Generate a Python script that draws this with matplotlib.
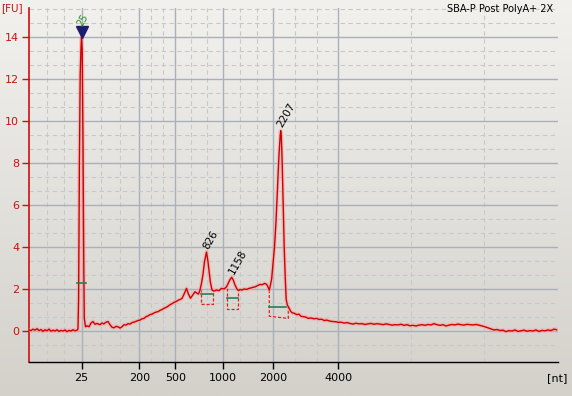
import numpy as np
import matplotlib
matplotlib.use('Agg')
import matplotlib.pyplot as plt
from matplotlib.colors import LinearSegmentedColormap

# electropherogram trace (migration position, fluorescence units)
pos = [29, 31, 33, 35, 37, 39, 41, 43, 45, 47, 49, 51, 53, 55, 57, 59, 61, 63, 65, 67,
       69, 71, 73, 75, 77, 78, 78.6, 79.4, 80.2, 81.0, 81.5, 82.2, 83.0, 83.8, 84.3, 85.5,
       87, 89, 91, 93, 95, 97, 100, 102, 104, 106, 108, 110, 112, 114, 116, 118, 120, 122,
       124, 126, 128, 130, 132, 134, 136, 138, 140, 142, 144, 146, 148, 150, 152, 154, 156,
       158, 160, 162, 164, 166, 168, 170, 172, 174, 176, 178, 180, 182, 184, 186.5, 188.5,
       190.5, 192.5, 195, 197, 198.5, 200, 201.5, 203, 204.5, 206.5, 208, 209.2, 210.3, 212,
       214, 216.5, 219, 221.5, 224, 226.5, 228.5, 230, 231.7, 233.5, 235, 237, 238.5, 240,
       242, 244, 246.5, 249, 251, 253, 255, 257, 260, 262, 265, 267, 269.3, 270.5, 271.7,
       273, 274.5, 276, 277.5, 279, 280.2, 280.7, 281.3, 282.2, 283.2, 284.2, 285.2, 286.2,
       287.3, 289, 290.5, 292, 294, 296.7, 299, 301, 303.3, 306, 308.3, 311, 314, 316.7,
       319, 322, 324, 326.7, 330, 333, 336, 338.3, 341, 344, 347, 350, 353, 356, 359, 362,
       365, 368, 371, 374, 377, 380, 383, 386, 389, 392, 395, 398, 401, 404, 407, 410, 413,
       416, 419, 422, 425, 428, 431, 434, 437, 440, 443, 446, 449, 452, 455, 458, 461, 464,
       467, 470, 473, 476, 479, 482, 485, 488, 491, 494, 497, 500, 503, 506, 509, 512, 515,
       518, 521, 524, 527, 530, 533, 536, 539, 542, 545, 548, 551, 554, 556.5]
fu = [0.05, 0.02, 0.09, 0.04, 0.11, 0.02, 0.07, -0.02, 0.06, 0.01, 0.09, -0.01, 0.04, 0.0,
      0.06, -0.02, 0.03, 0.0, 0.05, -0.03, 0.03, 0.0, 0.06, 0.01, 0.04, 0.1, 1.5, 8.0, 12.2,
      13.5, 14.0, 13.4, 9.0, 3.0, 0.6, 0.2, 0.25, 0.2, 0.38, 0.45, 0.32, 0.36, 0.3, 0.38,
      0.34, 0.42, 0.45, 0.3, 0.18, 0.15, 0.22, 0.2, 0.14, 0.2, 0.3, 0.28, 0.35, 0.33, 0.4,
      0.42, 0.46, 0.5, 0.52, 0.58, 0.6, 0.68, 0.72, 0.78, 0.8, 0.86, 0.9, 0.92, 0.98, 1.02,
      1.08, 1.12, 1.18, 1.25, 1.3, 1.36, 1.4, 1.46, 1.5, 1.55, 1.75, 2.03, 1.75, 1.56, 1.7,
      1.87, 1.8, 1.76, 1.95, 2.27, 2.7, 3.3, 3.76, 3.3, 2.8, 2.35, 1.95, 1.9, 1.95, 1.92,
      2.03, 2.0, 2.1, 2.3, 2.45, 2.56, 2.4, 2.19, 2.0, 1.92, 1.98, 1.95, 2.0, 1.98, 2.03,
      2.05, 2.08, 2.1, 2.15, 2.22, 2.2, 2.27, 2.2, 1.95, 2.2, 2.5, 3.2, 4.0, 5.2, 6.8, 8.4,
      9.3, 9.54, 9.3, 8.0, 6.0, 4.0, 2.6, 1.5, 1.24, 1.1, 0.95, 0.87, 0.85, 0.78, 0.8, 0.7,
      0.68, 0.66, 0.6, 0.62, 0.58, 0.6, 0.55, 0.56, 0.5, 0.52, 0.47, 0.45, 0.44, 0.41, 0.42,
      0.38, 0.4, 0.36, 0.33, 0.37, 0.34, 0.35, 0.31, 0.34, 0.36, 0.32, 0.35, 0.33, 0.3, 0.34,
      0.31, 0.28, 0.3, 0.29, 0.32, 0.27, 0.3, 0.25, 0.27, 0.24, 0.28, 0.3, 0.27, 0.31, 0.29,
      0.35, 0.3, 0.27, 0.3, 0.24, 0.28, 0.31, 0.29, 0.33, 0.3, 0.28, 0.32, 0.3, 0.29, 0.31,
      0.28, 0.24, 0.2, 0.15, 0.1, 0.05, 0.07, 0.02, 0.04, -0.03, 0.02, 0.0, 0.05, -0.02,
      0.01, 0.04, -0.01, 0.02, 0.0, 0.05, -0.02, 0.03, 0.01, 0.05, 0.02, 0.09, 0.06]

# ladder (x tick) positions and sizes
ladder_pos = [81.5, 139.3, 175.3, 223.3, 273.3, 338.3]
ladder_nt = ['25', '200', '500', '1000', '2000', '4000']

# marker peak
marker_pos, marker_fu, marker_label = 81.5, 14.0, '25'

# called peaks
peak_labels = ['826', '1158', '2207']
peak_pos = [206.5, 231.7, 280.7]
peak_fu = [3.76, 2.56, 9.54]

# integration regions
reg_left = [201.0, 227.3, 269.3]
reg_right = [213.3, 238.3, 288.3]
reg_top_l = [2.0, 2.05, 1.95]
reg_top_r = [1.9, 1.87, 1.13]
reg_bot_l = [1.27, 1.03, 0.7]
reg_bot_r = [1.27, 1.03, 0.6]
base_left = [77.3, 201.0, 227.3, 269.3]
base_right = [85.7, 213.3, 238.3, 286.0]
base_fu = [2.27, 1.76, 1.56, 1.16]

title = 'SBA-P Post PolyA+ 2X'

W, H = 572, 396
fig = plt.figure(figsize=(W / 100, H / 100), dpi=100)

# window-style gradient background
bg = fig.add_axes([0, 0, 1, 1])
grad = np.linspace(0, 1, 256).reshape(-1, 1)
cmap = LinearSegmentedColormap.from_list('bg', ['#f2f1ee', '#d4d1cb'])
bg.imshow(grad, aspect='auto', cmap=cmap, extent=[0, 1, 0, 1], origin='upper')
bg.axis('off')
bg.set_zorder(0)

x0, x1 = 29, 557.7
ax = fig.add_axes([x0 / W, (H - 362) / H, (x1 - x0) / W, (362 - 8) / H])
ax.set_zorder(1)
ax.set_facecolor('none')
ax.set_xlim(x0, x1)
ax.set_ylim(-31 / 21, 14 + 29 / 21)

# grid: solid at ladder / even FU, dashed thirds in between
edges = [x0] + ladder_pos
minor_x = []
for a, b in zip(edges[:-1], edges[1:]):
    minor_x += [a + (b - a) / 3, a + 2 * (b - a) / 3]
minor_x += [ladder_pos[-1] + 72.7, ladder_pos[-1] + 145.4]
for x in minor_x:
    ax.axvline(x, color='#c8c8c8', lw=0.8, ls=(0, (4, 3)), zorder=1)
for x in ladder_pos:
    ax.axvline(x, color='#aab0bb', lw=1.0, zorder=1)
for y in np.arange(-2 / 3, 15.4, 2 / 3):
    if abs(y / 2 - round(y / 2)) > 0.01:
        ax.axhline(y, color='#c8c8c8', lw=0.8, ls=(0, (4, 3)), zorder=1)
for y in range(0, 16, 2):
    ax.axhline(y, color='#aab0bb', lw=1.0, zorder=1)

# integration regions
for i in range(len(reg_left)):
    ax.plot([reg_left[i], reg_left[i], reg_right[i], reg_right[i]],
            [reg_top_l[i], reg_bot_l[i], reg_bot_r[i], reg_top_r[i]],
            color='#e02020', lw=0.9, ls=(0, (2.5, 1.5)), zorder=3)

# trace with glow
ax.plot(pos, fu, color='#f4a0a0', lw=3.0, alpha=0.5, zorder=3, solid_joinstyle='round')
ax.plot(pos, fu, color='#d00000', lw=1.0, zorder=4)

for l, r, y in zip(base_left, base_right, base_fu):
    ax.plot([l, r], [y, y], color='#2e7a5a', lw=1.2, zorder=5)

# marker annotation
ax.plot(marker_pos, marker_fu + 0.22, marker='v', color='#1c1c6e', ms=8, zorder=6)
ax.text(marker_pos + 2.5, marker_fu + 0.42, marker_label, color='#2a8a2a', fontsize=7,
        rotation=60, ha='left', va='bottom', rotation_mode='anchor', zorder=6)

for lab, x, y in zip(peak_labels, peak_pos, peak_fu):
    ax.text(x + 3.4, y + 0.06, lab, color='black', fontsize=7.5, rotation=60,
            ha='left', va='bottom', rotation_mode='anchor', zorder=6)

# axes styling
for s in ['top', 'right']:
    ax.spines[s].set_visible(False)
ax.spines['left'].set_color('#cc1010')
ax.spines['left'].set_linewidth(1.2)
ax.spines['bottom'].set_color('black')
ax.spines['bottom'].set_linewidth(1.0)
ax.set_xticks(ladder_pos)
ax.set_xticklabels(ladder_nt)
ax.set_yticks(range(0, 16, 2))
ax.tick_params(axis='y', colors='#cc1010', labelcolor='#cc1010', length=5, width=1,
               labelsize=8, pad=2)
ax.tick_params(axis='x', colors='black', length=5, width=1, labelsize=8, pad=3)

fig.text(1 / W, 1 - 8 / H, '[FU]', color='#cc1010', fontsize=7.5, ha='left', va='center')
fig.text(567 / W, 1 - 378 / H, '[nt]', color='black', fontsize=8, ha='right', va='center')
fig.text(553 / W, 1 - 9 / H, title, color='black', fontsize=7, ha='right', va='center')

fig.savefig('out.png', dpi=100)
